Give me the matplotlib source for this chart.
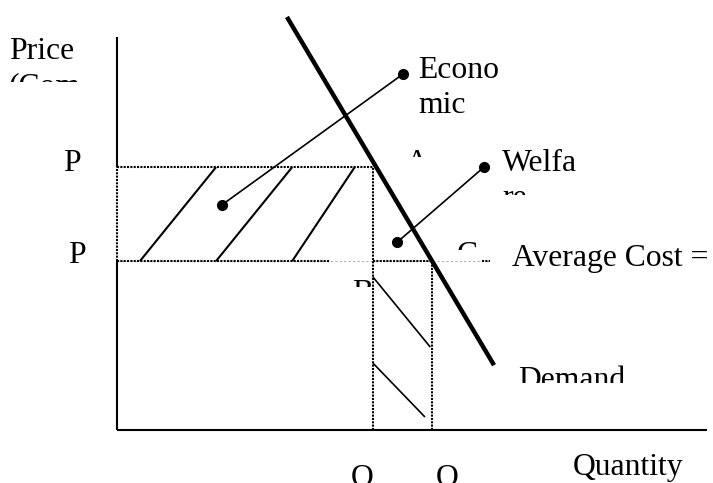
import matplotlib
matplotlib.use("Agg")
import matplotlib.pyplot as plt
from matplotlib.transforms import Bbox

W, H = 713, 483

# price / quantity levels of the monopoly diagram (axis units 0..10)
q_max, p_max = 10.0, 10.0
p_monopoly = 6.69
p_cost = 4.30
q_monopoly = 4.34
q_competitive = 5.34

# demand curve end points
demand_q = [2.88, 6.39]
demand_p = [10.51, 1.65]

# hatching of economic profit rectangle
profit_q_start = [0.39, 1.68, 2.97]
profit_q_end = [1.68, 2.97, 4.03]

# hatching of welfare loss area
loss_q_start = [4.34, 4.34]
loss_q_end = [5.31, 5.22]
loss_p_start = [3.89, 1.70]
loss_p_end = [2.11, 0.33]

# label pointers (dot on area, dot at label)
econ_ptr_q = [1.78, 4.85]
econ_ptr_p = [5.73, 9.06]
welfare_ptr_q = [4.75, 6.22]
welfare_ptr_p = [4.78, 6.69]

# average cost line pieces
ac_grey_end = 6.32
ac_black_pieces = [(0.0, 3.61), (q_monopoly, q_competitive), (6.19, 6.32)]

plt.rcParams['font.family'] = ['Liberation Serif', 'DejaVu Serif']

fig = plt.figure(figsize=(W / 100, H / 100), dpi=100)
ax = fig.add_axes([117 / W, 53 / H, 590 / W, 393 / H])
ax.set_xlim(0, q_max)
ax.set_ylim(0, p_max)
ax.axis('off')

dots = (0, (1, 0.6))
kw = dict(clip_on=False, solid_capstyle='butt')

# axes
ax.plot([0, 0], [p_monopoly, p_max], color='black', lw=1.5, **kw)
ax.plot([0, 0], [0, p_cost], color='black', lw=1.5, **kw)
ax.plot([0, q_max], [0, 0], color='black', lw=1.5, **kw)

# dotted guides
ax.plot([0, 0], [p_cost, p_monopoly], color='black', lw=1.5, ls=dots, clip_on=False)
ax.plot([0, q_monopoly], [p_monopoly, p_monopoly], color='black', lw=1.5, ls=dots, clip_on=False)
ax.plot([0, ac_grey_end], [p_cost, p_cost], color='#b0b0b0', lw=0.8, ls=(0, (2, 2)), clip_on=False)
for a, b in ac_black_pieces:
    ax.plot([a, b], [p_cost, p_cost], color='black', lw=1.5, ls=dots, clip_on=False)
ax.plot([q_monopoly, q_monopoly], [0, p_monopoly], color='black', lw=1.5, ls=dots, clip_on=False)
ax.plot([q_competitive, q_competitive], [0, p_cost], color='black', lw=1.5, ls=dots, clip_on=False)

# hatching
for a, b in zip(profit_q_start, profit_q_end):
    ax.plot([a, b], [p_cost, p_monopoly], color='black', lw=1.5, **kw)
for a, b, c, d in zip(loss_q_start, loss_q_end, loss_p_start, loss_p_end):
    ax.plot([a, b], [c, d], color='black', lw=1.2, **kw)

# demand
ax.plot(demand_q, demand_p, color='black', lw=3.2, **kw)

# pointers
for qq, pp in [(econ_ptr_q, econ_ptr_p), (welfare_ptr_q, welfare_ptr_p)]:
    ax.plot(qq, pp, color='black', lw=1.2, marker='o', ms=7, **kw)

LINE_GAP = 35


def label(x, y, lines, bottom=None, right=W):
    # one text per line so every baseline is placed exactly; clip like a text box
    for i, s in enumerate(lines.split("\n")):
        t = fig.text(x / W, 1 - (y + i * LINE_GAP) / H, s, fontsize=22.8,
                     ha='left', va='baseline')
        if bottom is not None:
            t.set_clip_on(True)
            t.set_clip_box(Bbox.from_extents(0, H - bottom, right, H))


label(9, 59, "Price\n(Com", bottom=82, right=80)
label(63, 171, "P")
label(68, 263, "P")
label(418, 78, "Econo\nmic")
label(406, 171, "A", bottom=157)
label(502, 171, "Welfa\nre", bottom=195)
label(457, 263, "C", bottom=250)
label(512, 266, "Average Cost =")
label(352, 301, "B", bottom=287)
label(518, 388, "Demand", bottom=383)
label(573, 475, "Quantity")
label(351, 486, "Q")
label(436, 486, "Q")

fig.savefig("out.png", dpi=100)
